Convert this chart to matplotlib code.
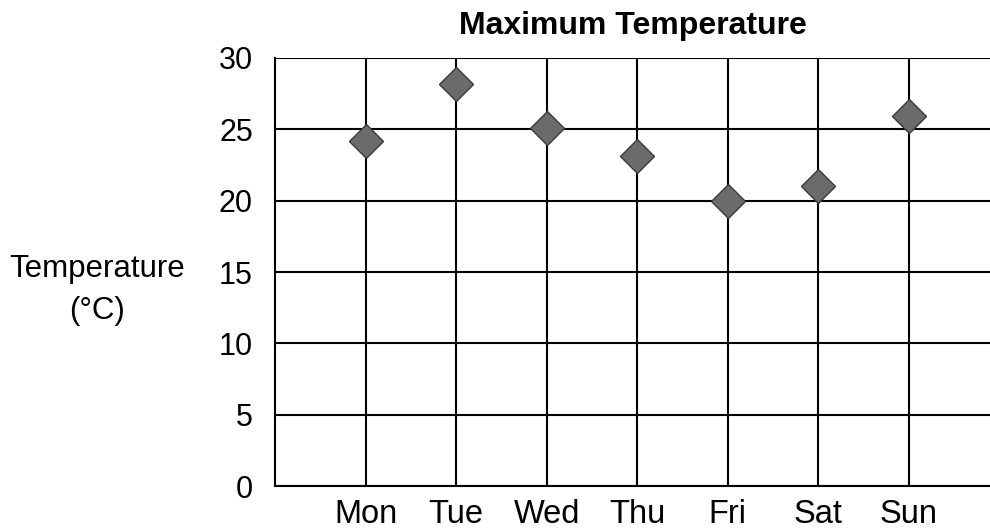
import matplotlib
matplotlib.use("Agg")
import matplotlib.pyplot as plt

plt.rcParams["font.family"] = ["Liberation Sans", "DejaVu Sans"]

DAYS = ["Mon", "Tue", "Wed", "Thu", "Fri", "Sat", "Sun"]
MAX_TEMP = [24.2, 28.2, 25.1, 23.1, 20.0, 21.0, 25.9]
Y_TICKS = [0, 5, 10, 15, 20, 25, 30]

fig = plt.figure(figsize=(9.9, 5.31), dpi=100)
ax = fig.add_axes([0.278, 0.0847, 0.722, 0.8061])

x = list(range(1, len(DAYS) + 1))
ax.plot(x, MAX_TEMP, linestyle="none", marker="D", markersize=17.5,
        markerfacecolor="#6b6b6b", markeredgecolor="#3a3a3a", markeredgewidth=1.0,
        zorder=4)

ax.set_xlim(0, 7.9)
ax.set_ylim(0, 30)
ax.set_xticks(x)
ax.set_xticklabels(DAYS)
ax.set_yticks(Y_TICKS)
ax.tick_params(axis="both", length=0)
ax.tick_params(axis="x", labelsize=23.5, pad=9)
ax.tick_params(axis="y", labelsize=22, pad=16)

ax.grid(True, color="black", linewidth=1.5)
ax.set_axisbelow(True)
for side in ("top", "right"):
    ax.spines[side].set_visible(False)
for side in ("left", "bottom"):
    ax.spines[side].set_linewidth(1.5)

ax.set_title("Maximum Temperature", fontsize=23, fontweight="bold", pad=17)
fig.text(97 / 990, 1 - 290 / 531, "Temperature\n(°C)", fontsize=22.5, ha="center",
         va="center", multialignment="center", linespacing=1.5)

fig.savefig("out.png", dpi=100)
